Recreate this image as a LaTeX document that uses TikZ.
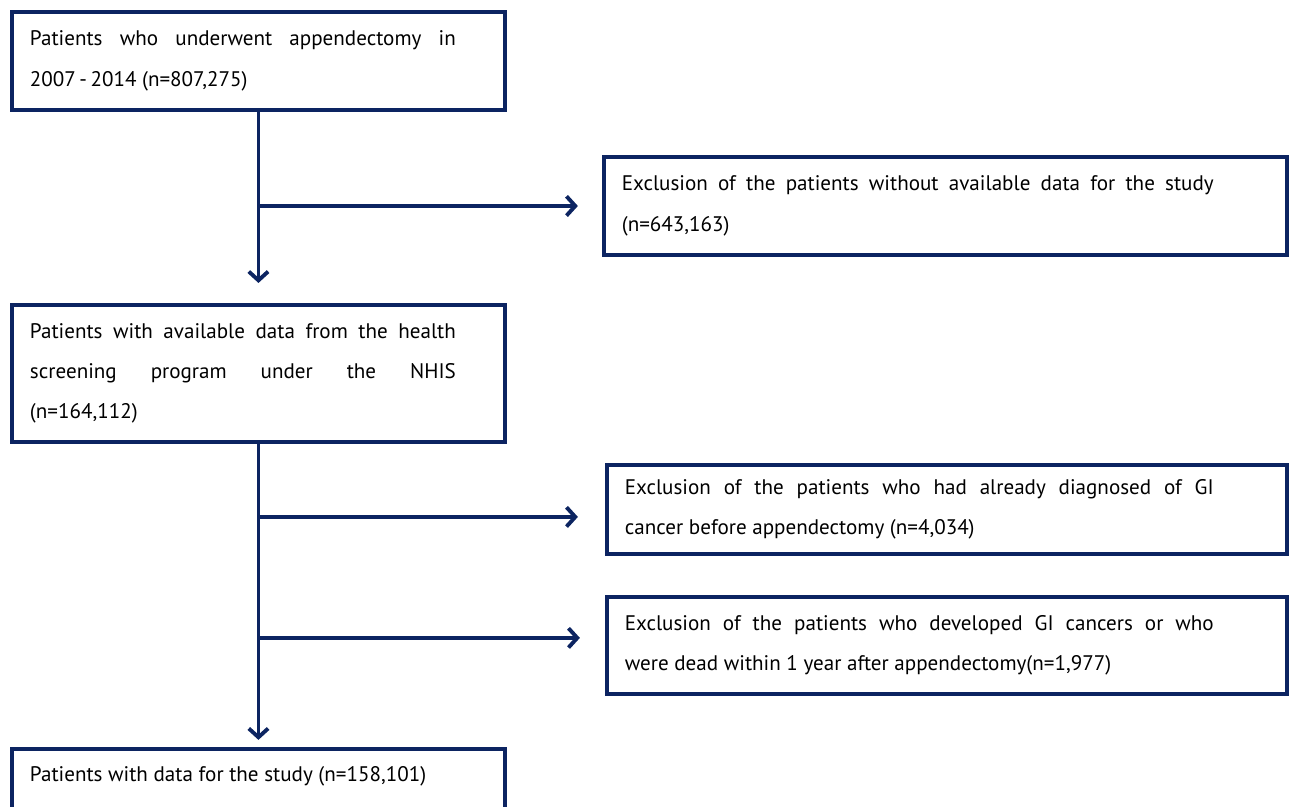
\documentclass[tikz,border=0pt]{standalone}
\usepackage{fontspec}
\setmainfont{PT Sans}
\usepackage{tikz}
\usetikzlibrary{positioning,arrows.meta}
\definecolor{navy}{RGB}{12,36,97}
\tikzset{
	basebox/.style={draw=navy, line width=2.2pt, outer sep=0pt, inner xsep=0.36cm, inner ysep=0.2cm, align=justify, font=\fontsize{12}{23}\selectfont},
	mainbox/.style={basebox, text width=9.14cm, execute at begin node={\rightskip=0.62cm\relax}},
	exclbox/.style={basebox, text width=12.88cm, execute at begin node={\rightskip=1.1cm\relax}},
	flow/.style={draw=navy, line width=2.2pt, -{Straight Barb[length=5pt,width=11pt]}}
}
\begin{document}
\begin{tikzpicture}[x=0.02cm, y=-0.02cm]
	\useasboundingbox (0,0) rectangle (1293,806);
	\node[mainbox, minimum height=1.96cm, anchor=north west] (start) at (12,12) {Patients who underwent appendectomy in\linebreak 2007\,-\,2014 (n=807,275)};
	\node[exclbox, text width=12.94cm, minimum height=1.96cm, below right=2.9cm and 1.98cm of start.north east, anchor=north west] (exclNA) {Exclusion of the patients without available data for the study\linebreak (n=643,163)};
	\node[mainbox, minimum height=2.74cm, below=3.9cm of start.south west, anchor=north west] (screen) {Patients with available data from the health\linebreak screening program under the NHIS\linebreak (n=164,112)};
	\node[exclbox, minimum height=1.78cm, below right=3.2cm and 2.04cm of screen.north east, anchor=north west] (exclGI) {Exclusion of the patients who had already diagnosed of GI\linebreak cancer before appendectomy (n=4,034)};
	\node[exclbox, minimum height=1.94cm, below=0.86cm of exclGI.south west, anchor=north west] (exclDead) {Exclusion of the patients who developed GI cancers or who\linebreak were dead within 1 year after appendectomy(n=1,977)};
	\node[mainbox, inner ysep=0.35cm, text depth=1cm, below=6.14cm of screen.south west, anchor=north west] (final) {Patients with data for the study (n=158,101)};

	\coordinate[below=1.92cm of start.south] (b1);
	\coordinate[below=1.5cm of screen.south] (b2);
	\coordinate[below=3.92cm of screen.south] (b3);

	\draw[flow, shorten >=0.44cm] (start) -- (screen);
	\draw[flow, shorten >=0.52cm] (b1) -- (b1 -| exclNA.west);
	\draw[flow, shorten >=0.18cm] (screen) -- (final);
	\draw[flow, shorten >=0.58cm] (b2) -- (b2 -| exclGI.west);
	\draw[flow, shorten >=0.54cm] (b3) -- (b3 -| exclDead.west);
\end{tikzpicture}
\end{document}
